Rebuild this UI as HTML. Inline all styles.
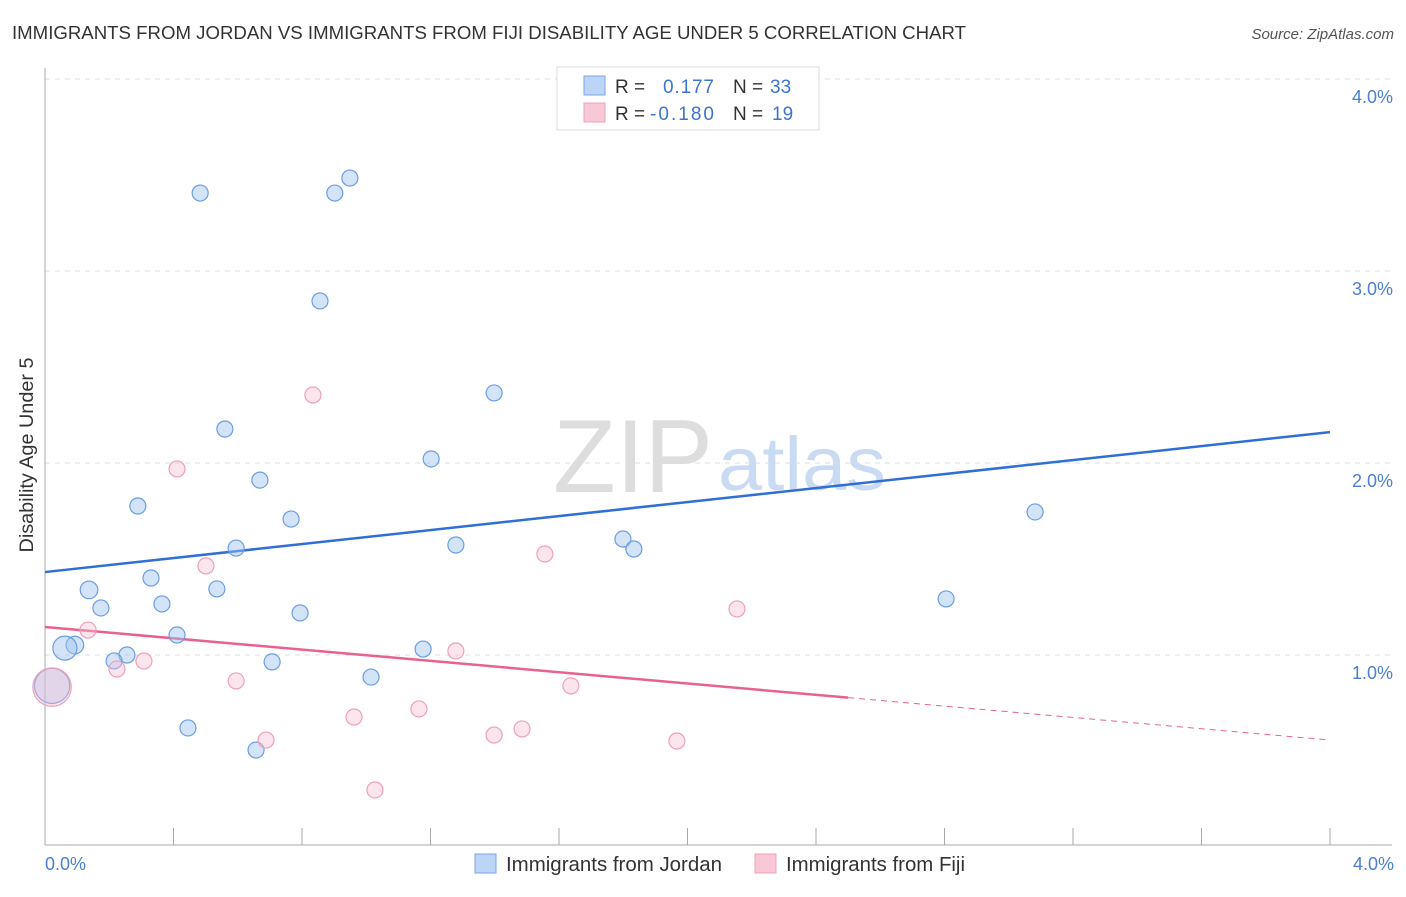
<!DOCTYPE html>
<html><head><meta charset="utf-8"><style>
body{margin:0;background:#fff;font-family:"Liberation Sans",sans-serif}
svg text{font-family:"Liberation Sans",sans-serif}
</style></head><body>
<svg width="1406" height="892" xmlns="http://www.w3.org/2000/svg">
<text x="12" y="39" font-size="18" fill="#333" textLength="954" lengthAdjust="spacingAndGlyphs">IMMIGRANTS FROM JORDAN VS IMMIGRANTS FROM FIJI DISABILITY AGE UNDER 5 CORRELATION CHART</text>
<text x="1394" y="39" font-size="15" fill="#555" text-anchor="end" font-style="italic">Source: ZipAtlas.com</text>
<g><text x="553" y="492" font-size="104" fill="#ddd" font-family="Liberation Serif" textLength="160" lengthAdjust="spacingAndGlyphs">ZIP</text><text x="718" y="490" font-size="76" fill="#c9daf3" textLength="168" lengthAdjust="spacingAndGlyphs">atlas</text></g>
<g id="grid"></g><g id="axes"></g><g id="trends"></g><g id="pts"></g>
<text transform="translate(33,455) rotate(-90)" font-size="19" fill="#333" text-anchor="middle" textLength="195" lengthAdjust="spacingAndGlyphs">Disability Age Under 5</text>
<text x="45" y="870" font-size="18" fill="#4a7fd4">0.0%</text>
<text x="1394" y="870" font-size="18" fill="#4a7fd4" text-anchor="end">4.0%</text>
<g><rect x="557" y="67" width="262" height="63" fill="#fff" stroke="#ddd"/>
<rect x="584" y="76" width="21" height="19" fill="#bcd4f6" stroke="#7aa6e8"/>
<rect x="584" y="103" width="21" height="19" fill="#f9c8d6" stroke="#eea0b8"/>
<text x="615" y="93" font-size="19" fill="#333">R =</text><text x="663" y="93" font-size="19" fill="#3b74d1" textLength="51">0.177</text>
<text x="733" y="93" font-size="19" fill="#333">N =</text><text x="770" y="93" font-size="19" fill="#3b74d1">33</text>
<text x="615" y="120" font-size="19" fill="#333">R =</text><text x="650" y="120" font-size="19" fill="#3b74d1" textLength="64">-0.180</text>
<text x="733" y="120" font-size="19" fill="#333">N =</text><text x="772" y="120" font-size="19" fill="#3b74d1">19</text></g>
<g>
<rect x="475" y="854" width="21" height="19" fill="#bcd4f6" stroke="#7aa6e8"/>
<text x="506" y="871" font-size="20" fill="#333" textLength="216" lengthAdjust="spacingAndGlyphs">Immigrants from Jordan</text>
<rect x="755" y="854" width="21" height="19" fill="#f9c8d6" stroke="#eea0b8"/>
<text x="786" y="871" font-size="20" fill="#333" textLength="179" lengthAdjust="spacingAndGlyphs">Immigrants from Fiji</text></g>
</svg>
<script>
const jordanX=[0.483,0.902,0.949,0.856,1.398,0.560,1.202,0.669,0.289,0.766,1.279,0.595,1.799,1.833,3.082,0.330,0.137,0.535,0.174,0.364,0.794,2.805,0.411,0.093,0.062,0.255,0.215,0.707,1.177,1.015,0.022,0.445,0.657];
const jordanY=[3.406,3.406,3.484,2.844,2.365,2.177,2.021,1.911,1.776,1.708,1.573,1.557,1.604,1.552,1.745,1.401,1.339,1.344,1.245,1.266,1.219,1.292,1.104,1.052,1.036,1.000,0.969,0.964,1.031,0.885,0.839,0.620,0.505];
const jordanSize=[1,1,1,1,1,1,1,1,1,1,1,1,1,1,1,1,1.1,1,1,1,1,1,1,1.1,1.5,1,1,1,1,1,2.2,1,1];
const fijiX=[0.834,0.411,0.501,1.556,2.154,0.134,0.308,0.224,0.595,1.279,1.637,0.022,0.962,1.164,0.688,1.398,1.485,1.967,1.027];
const fijiY=[2.354,1.969,1.464,1.526,1.240,1.130,0.969,0.927,0.865,1.021,0.839,0.833,0.677,0.719,0.557,0.583,0.615,0.552,0.297];
const fijiSize=[1,1,1,1,1,1,1,1,1,1,1,2.4,1,1,1,1,1,1,1];
const yTicks=[1,2,3,4];
const yTickLabels=["1.0%","2.0%","3.0%","4.0%"];
const xTicks=[0,0.4,0.8,1.2,1.6,2.0,2.4,2.8,3.2,3.6,4.0];
const jordanTrend=[1.432,2.161];
const fijiTrend=[1.146,0.557];
const fijiSolidEnd=2.5;
const X=v=>45+v*1285/4, Y=v=>847-v*192;
const NS="http://www.w3.org/2000/svg";
function mk(p,t,a){const e=document.createElementNS(NS,t);for(const k in a)e.setAttribute(k,a[k]);document.getElementById(p).appendChild(e);return e;}
yTicks.forEach((t,i)=>{
 const l=mk('grid','line',{x1:45,x2:1392,y1:Y(t),y2:Y(t),stroke:'#ddd','stroke-dasharray':'5,5'});
 
 
 const tx=mk('grid','text',{x:1393,y:Y(t)+24,'font-size':18,fill:'#4a7fd4','text-anchor':'end'});
 tx.textContent=yTickLabels[i];
 
 
});
let a=mk('axes','line',{x1:45,x2:45,y1:68,y2:845,stroke:'#aaa'});


a=mk('axes','line',{x1:45,x2:1392,y1:845,y2:845,stroke:'#aaa'});


xTicks.forEach(t=>{const l=mk('axes','line',{x1:X(t),x2:X(t),y1:828,y2:845,stroke:'#aaa'});
 
 });
const fy=x=>fijiTrend[0]+(fijiTrend[1]-fijiTrend[0])*x/4;
let t=mk('trends','line',{x1:X(0),y1:Y(jordanTrend[0]),x2:X(4),y2:Y(jordanTrend[1]),stroke:'#2f6fd6','stroke-width':2.5});


t=mk('trends','line',{x1:X(0),y1:Y(fy(0)),x2:X(fijiSolidEnd),y2:Y(fy(fijiSolidEnd)),stroke:'#e8628f','stroke-width':2.5});


t=mk('trends','line',{x1:X(fijiSolidEnd),y1:Y(fy(fijiSolidEnd)),x2:X(4),y2:Y(fy(4)),stroke:'#e8628f','stroke-width':1,'stroke-dasharray':'6,5'});


jordanX.forEach((x,i)=>{const c=mk('pts','circle',{cx:X(x),cy:Y(jordanY[i]),r:8*jordanSize[i],fill:'rgba(160,195,240,0.45)',stroke:'#6a9de3','stroke-width':1.2});
 
 });
fijiX.forEach((x,i)=>{const c=mk('pts','circle',{cx:X(x),cy:Y(fijiY[i]),r:8*fijiSize[i],fill:'rgba(248,190,210,0.4)',stroke:'#eea0b8','stroke-width':1.2});
 
 });
</script>
</body></html>
